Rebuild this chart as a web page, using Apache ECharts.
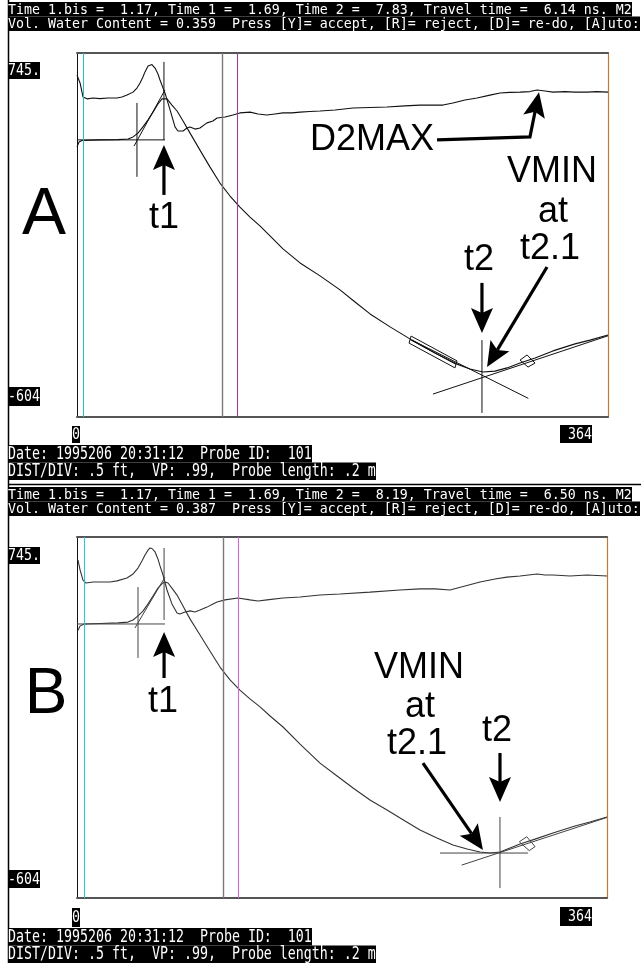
<!DOCTYPE html>
<html>
<head>
<meta charset="utf-8">
<title>TDR travel-time analysis</title>
<script src="https://cdn.jsdelivr.net/npm/echarts@6/dist/echarts.min.js"></script>
<style>
  html, body { margin: 0; padding: 0; background: #fff; }
  #chart { width: 641px; height: 963px; }
</style>
</head>
<body>
<div id="chart"></div>
<script>
// ---- shared scale ---------------------------------------------------------
const xRange = [0, 364];
const yRange = [-604, 745];
const xTickLabels = ['0', '364'];
const yTickLabels = ['745.', '-604'];

// ---- trace A --------------------------------------------------------------
const waveA_x = [0, 1.4, 3.4, 15.8, 28.1, 35.0, 38.4, 41.8, 45.2, 48.7, 52.1, 55.5, 58.3, 59.6, 61.7,
  65.1, 68.6, 72.7, 77.5, 84.3, 91.2, 98.0, 104.9, 111.7, 118.6, 125.4, 132.3, 141.2, 152.9, 166.6,
  180.3, 190.6, 200.9, 214.6, 229.6, 245.4, 260.5, 269.4, 278.3, 286.5, 294.8, 303.7, 314.0, 326.3,
  341.4, 351.7, 364];
const waveA_y = [397, 415, 421, 423, 424, 426, 434, 448, 471, 497, 526, 556, 575, 578, 575,
  552, 530, 493, 448, 385, 322, 263, 215, 174, 137, 104, 67, 19, -33, -81,
  -133, -178, -222, -270, -319, -367, -408, -426, -437, -434, -422, -404, -385, -359,
  -333, -319, -300];
const derivA_x = [0, 2.1, 4.1, 6.9, 11.0, 15.8, 21.3, 27.4, 30.8, 34.3, 38.4, 41.1, 43.2, 45.2, 46.6,
  48.7, 50.0, 51.4, 53.5, 55.5, 56.9, 59.0, 60.3, 63.8, 67.2, 69.2, 72.7, 75.4, 77.5, 80.9,
  84.3, 89.1, 93.2, 96.0, 101.5, 106.9, 111.7, 118.6, 124.1, 130.2, 135.7, 141.2, 147.4, 152.9, 159.7,
  166.6, 176.9, 189.2, 200.9, 212.5, 224.8, 235.1, 250.9, 257.7, 266.0, 274.2, 283.1, 290.0, 296.8, 303.7,
  310.5, 315.3, 320.8, 326.3, 334.5, 341.4, 349.6, 356.4, 364];
const derivA_y = [663, 634, 582, 575, 578, 576, 578, 578, 582, 589, 600, 615, 634, 656, 675,
  697, 704, 702, 689, 667, 645, 615, 597, 534, 471, 456, 456, 467, 471, 463,
  467, 486, 493, 504, 508, 515, 523, 526, 519, 515, 519, 523, 523, 526, 528,
  530, 534, 541, 543, 545, 549, 552, 552, 560, 571, 578, 589, 597, 599, 600,
  602, 608, 604, 600, 602, 600, 600, 602, 600];
const cursorsA = [4.1, 99.4, 109.7];
const guidesA = [
  [[41.1, 560], [41.1, 286]],                 // t1.bis
  [[59.6, 712], [59.6, 423]],                 // t1
  [[0, 423], [60.3, 423]],                    // baseline
  [[39.1, 400], [60.3, 608]],                 // rising-limb tangent
  [[277.6, -319], [277.6, -589]],             // t2
  [[229.6, -319], [309.4, -535]],             // falling tangent
  [[244.0, -519], [364, -303]],               // rising tangent
  [[229.0, -304], [260.5, -396], [259.1, -422], [227.6, -330], [229.0, -304]],  // fit window
  [[228.3, -317], [259.8, -409]],
  [[308.5, -374], [314.0, -404], [309.2, -419], [303.7, -393], [308.5, -374]]   // fit window
];
const arrowsA = [
  [[59.6, 219], [59.6, 404]],
  [[277.6, -107], [277.6, -293]],
  [[322.2, -48], [281.1, -419]],
  [[246.8, 423], [310.5, 434], [316.7, 600]]
];
const headerA = [
  'Time 1.bis =  1.17, Time 1 =  1.69, Time 2 =  7.83, Travel time =  6.14 ns. M2',
  'Vol. Water Content = 0.359  Press [Y]= accept, [R]= reject, [D]= re-do, [A]uto:'
];

// ---- trace B --------------------------------------------------------------
const waveB_x = [0.7, 2.1, 4.8, 15.8, 28.2, 35.0, 38.5, 41.9, 45.3, 48.8, 52.2, 55.6, 58.4, 60.4, 62.5,
  65.2, 68.7, 72.8, 77.6, 84.5, 91.3, 98.2, 105.1, 111.9, 118.8, 125.7, 132.6, 141.5, 153.2, 166.9,
  178.6, 189.6, 201.2, 212.9, 225.3, 235.6, 247.2, 258.2, 267.9, 276.8, 283.6, 290.5, 297.4, 304.3,
  314.6, 326.9, 342.0, 352.3, 364];
const waveB_y = [397, 412, 420, 422, 424, 427, 435, 450, 468, 495, 524, 554, 571, 577, 573,
  554, 528, 487, 439, 379, 319, 259, 211, 173, 140, 110, 76, 35, -29, -100,
  -148, -193, -238, -275, -316, -350, -380, -406, -421, -432, -436, -432, -417, -402,
  -384, -361, -335, -320, -301];
const derivB_x = [0.7, 2.1, 4.1, 6.2, 11.0, 15.8, 22.7, 27.5, 34.3, 38.5, 41.9, 44.6, 46.7, 48.8, 50.1,
  51.5, 53.6, 55.6, 57.0, 59.1, 61.8, 65.2, 68.7, 70.7, 74.2, 77.6, 81.0, 84.5, 89.3, 93.4,
  96.2, 101.6, 110.6, 118.8, 124.3, 130.5, 141.5, 153.2, 166.9, 180.6, 201.2, 221.8, 235.6, 245.9, 256.2,
  266.5, 276.8, 287.1, 295.3, 304.3, 316.0, 321.4, 326.9, 338.6, 350.3, 364];
const derivB_y = [659, 622, 584, 573, 577, 577, 577, 581, 592, 607, 629, 655, 678, 696, 704,
  702, 689, 663, 637, 603, 547, 495, 461, 457, 465, 469, 465, 472, 483, 495,
  502, 510, 517, 510, 506, 510, 517, 521, 528, 532, 539, 547, 551, 551, 547,
  562, 577, 588, 595, 599, 607, 603, 603, 599, 603, 599];
const cursorsB = [4.8, 100.3, 110.6];
const guidesB = [
  [[41.9, 558], [41.9, 293]],
  [[59.8, 704], [59.8, 435]],
  [[0, 420], [60.4, 420]],
  [[39.8, 405], [60.4, 595]],
  [[290.5, -301], [290.5, -567]],
  [[249.3, -436], [309.7, -436]],
  [[264.2, -481], [364, -303]],
  [[308.9, -375], [314.6, -412], [310.6, -427], [303.8, -394], [308.9, -375]]
];
const arrowsB = [
  [[59.8, 218], [59.8, 390]],
  [[290.5, -62], [290.5, -245]],
  [[237.6, -100], [278.8, -425]]
];
const headerB = [
  'Time 1.bis =  1.17, Time 1 =  1.69, Time 2 =  8.19, Travel time =  6.50 ns. M2',
  'Vol. Water Content = 0.387  Press [Y]= accept, [R]= reject, [D]= re-do, [A]uto:'
];
const footer = [
  'Date: 1995206 20:31:12  Probe ID:  101',
  'DIST/DIV: .5 ft,  VP: .99,  Probe length: .2 m'
];

// ---- layout ---------------------------------------------------------------
const panels = [
  {
    grid: { left: 77, top: 53, width: 531, height: 364 },
    wave: [waveA_x, waveA_y], deriv: [derivA_x, derivA_y],
    cursors: cursorsA, cursorColors: ['#3fb3c4', '#7a7a7a', '#9a3c9a'],
    guides: guidesA, arrows: arrowsA, header: headerA,
    curveColor: '#111', guideColor: '#111',
    headerTop: 2, footerTop: 445,
    yTickBoxes: [[8, 62, 17], [8, 387, 19]],
    xTickBoxes: [[72, 426, 17], [560, 425, 18]],
    labels: [
      { text: 'A', x: 44, y: 216, size: 66 },
      { text: 't1', x: 164, y: 218.5 },
      { text: 'D2MAX', x: 434, y: 140.5, align: 'right' },
      { text: 'VMIN', x: 552, y: 172.5 },
      { text: 'at', x: 553, y: 212 },
      { text: 't2.1', x: 550, y: 249 },
      { text: 't2', x: 479, y: 260 }
    ]
  },
  {
    grid: { left: 77, top: 537, width: 530, height: 361 },
    wave: [waveB_x, waveB_y], deriv: [derivB_x, derivB_y],
    cursors: cursorsB, cursorColors: ['#2cc6d6', '#7a7a7a', '#d168d1'],
    guides: guidesB, arrows: arrowsB, header: headerB,
    curveColor: '#333', guideColor: '#444',
    headerTop: 487, footerTop: 928,
    yTickBoxes: [[8, 547, 17], [8, 870, 18]],
    xTickBoxes: [[72, 908, 19], [560, 907, 19]],
    labels: [
      { text: 'B', x: 46, y: 695.5, size: 64 },
      { text: 't1', x: 163, y: 702 },
      { text: 'VMIN', x: 419, y: 668.5 },
      { text: 'at', x: 420, y: 707 },
      { text: 't2.1', x: 417, y: 744 },
      { text: 't2', x: 497, y: 731 }
    ]
  }
];

const ARROW_LEN = 25;
const ARROW_HALF_W = 11;
const MONO = '13.29px "DejaVu Sans Mono"';
const SANS = '"Liberation Sans", Arial, sans-serif';

function zip(xs, ys) { return xs.map((x, i) => [x, ys[i]]); }

// Arrow shaft (polyline) + notched head pointing at the last vertex.
function arrowRenderer(list) {
  return function (params, api) {
    const pts = list[params.dataIndex].map(p => api.coord(p));
    const n = pts.length;
    const tip = pts[n - 1], prev = pts[n - 2];
    const dx = tip[0] - prev[0], dy = tip[1] - prev[1];
    const len = Math.hypot(dx, dy);
    const ux = dx / len, uy = dy / len, nx = -uy, ny = ux;
    const base = [tip[0] - ux * ARROW_LEN, tip[1] - uy * ARROW_LEN];
    const notch = [tip[0] - ux * ARROW_LEN * 0.8, tip[1] - uy * ARROW_LEN * 0.8];
    return {
      type: 'group',
      children: [
        { type: 'polyline', shape: { points: pts.slice(0, n - 1).concat([notch]) },
          style: { stroke: '#000', lineWidth: 3.2, fill: null, lineJoin: 'miter' } },
        { type: 'polygon',
          shape: { points: [tip, [base[0] + nx * ARROW_HALF_W, base[1] + ny * ARROW_HALF_W], notch,
                            [base[0] - nx * ARROW_HALF_W, base[1] - ny * ARROW_HALF_W]] },
          style: { fill: '#000' } }
      ]
    };
  };
}

// Black bar with white terminal text
function termBar(x, y, h, text, sy) {
  return {
    type: 'group', x: x, y: y,
    children: [
      { type: 'rect', shape: { x: 0, y: 0, width: text.length * 8, height: h }, style: { fill: '#000' } },
      { type: 'text', x: 0, y: h / 2 + 0.5, scaleY: sy,
        style: { text: text, fill: '#fff', font: MONO, align: 'left', verticalAlign: 'middle' } }
    ]
  };
}

const grids = [], xAxes = [], yAxes = [], series = [];
// page frame first so the status bars sit on top of it
const graphics = [
  { type: 'line', shape: { x1: 8.5, y1: 0, x2: 8.5, y2: 963 }, style: { stroke: '#000', lineWidth: 1.5 } },
  { type: 'line', shape: { x1: 8, y1: 484.5, x2: 641, y2: 484.5 }, style: { stroke: '#000', lineWidth: 1.5 } }
];
const hidden = { axisTick: { show: false }, axisLabel: { show: false }, splitLine: { show: false } };

panels.forEach((p, k) => {
  grids.push(Object.assign({ containLabel: false }, p.grid));
  xAxes.push(Object.assign({ gridIndex: k, type: 'value', min: xRange[0], max: xRange[1], position: 'bottom',
    axisLine: { show: true, onZero: false, lineStyle: { color: '#555', width: 2 } } }, hidden));
  xAxes.push(Object.assign({ gridIndex: k, type: 'value', min: xRange[0], max: xRange[1], position: 'top',
    axisLine: { show: true, onZero: false, lineStyle: { color: '#555', width: 2 } } }, hidden));
  yAxes.push(Object.assign({ gridIndex: k, type: 'value', min: yRange[0], max: yRange[1], position: 'left',
    axisLine: { show: true, onZero: false, lineStyle: { color: '#111', width: 1 } } }, hidden));
  yAxes.push(Object.assign({ gridIndex: k, type: 'value', min: yRange[0], max: yRange[1], position: 'right',
    axisLine: { show: true, onZero: false, lineStyle: { color: '#c47a34', width: 1.2 } } }, hidden));

  const ax = { xAxisIndex: 2 * k, yAxisIndex: 2 * k };
  series.push(Object.assign({
    type: 'line', name: 'waveform', data: zip(p.wave[0], p.wave[1]), symbol: 'none',
    lineStyle: { color: p.curveColor, width: 1.1 }, z: 3,
    markLine: {
      silent: true, symbol: 'none', label: { show: false },
      data: p.cursors.map((v, i) => ({ xAxis: v,
        lineStyle: { color: p.cursorColors[i], width: i === 1 ? 1.4 : 1.1, type: 'solid' } }))
    }
  }, ax));
  series.push(Object.assign({
    type: 'line', name: 'derivative', data: zip(p.deriv[0], p.deriv[1]), symbol: 'none',
    lineStyle: { color: p.curveColor, width: 1.1 }, z: 3
  }, ax));
  series.push(Object.assign({
    type: 'lines', coordinateSystem: 'cartesian2d', polyline: true, silent: true,
    data: p.guides.map(c => ({ coords: c })),
    lineStyle: { color: p.guideColor, width: 1, opacity: 1 }, z: 4
  }, ax));
  series.push(Object.assign({
    type: 'custom', clip: false, silent: true,
    data: p.arrows.map((a, i) => [a[0][0], a[0][1], i]),
    encode: { x: 0, y: 1 },
    renderItem: arrowRenderer(p.arrows), z: 5
  }, ax));

  // terminal status lines
  graphics.push(termBar(8, p.headerTop, 14.5, p.header[0], 1.1));
  graphics.push(termBar(8, p.headerTop + 14.5, 14.5, p.header[1], 1.1));
  graphics.push(termBar(8, p.footerTop, 17.5, footer[0], 1.3));
  graphics.push(termBar(8, p.footerTop + 17.5, 17.5, footer[1], 1.3));
  // axis end labels
  p.yTickBoxes.forEach((b, i) => graphics.push(termBar(b[0], b[1], b[2], yTickLabels[i], 1.25)));
  graphics.push(termBar(p.xTickBoxes[0][0], p.xTickBoxes[0][1], p.xTickBoxes[0][2], xTickLabels[0], 1.25));
  graphics.push(termBar(p.xTickBoxes[1][0], p.xTickBoxes[1][1], p.xTickBoxes[1][2], ' ' + xTickLabels[1], 1.25));
  // annotations
  p.labels.forEach(l => graphics.push({
    type: 'text', x: l.x, y: l.y,
    style: { text: l.text, fill: '#000', font: (l.size || 36) + 'px ' + SANS,
      align: l.align || 'center', verticalAlign: 'middle' }
  }));
});

const chart = echarts.init(document.getElementById('chart'), null, { renderer: 'canvas' });
chart.setOption({
  animation: false,
  backgroundColor: '#fff',
  grid: grids,
  xAxis: xAxes,
  yAxis: yAxes,
  series: series,
  graphic: { elements: graphics }
});
</script>
</body>
</html>
